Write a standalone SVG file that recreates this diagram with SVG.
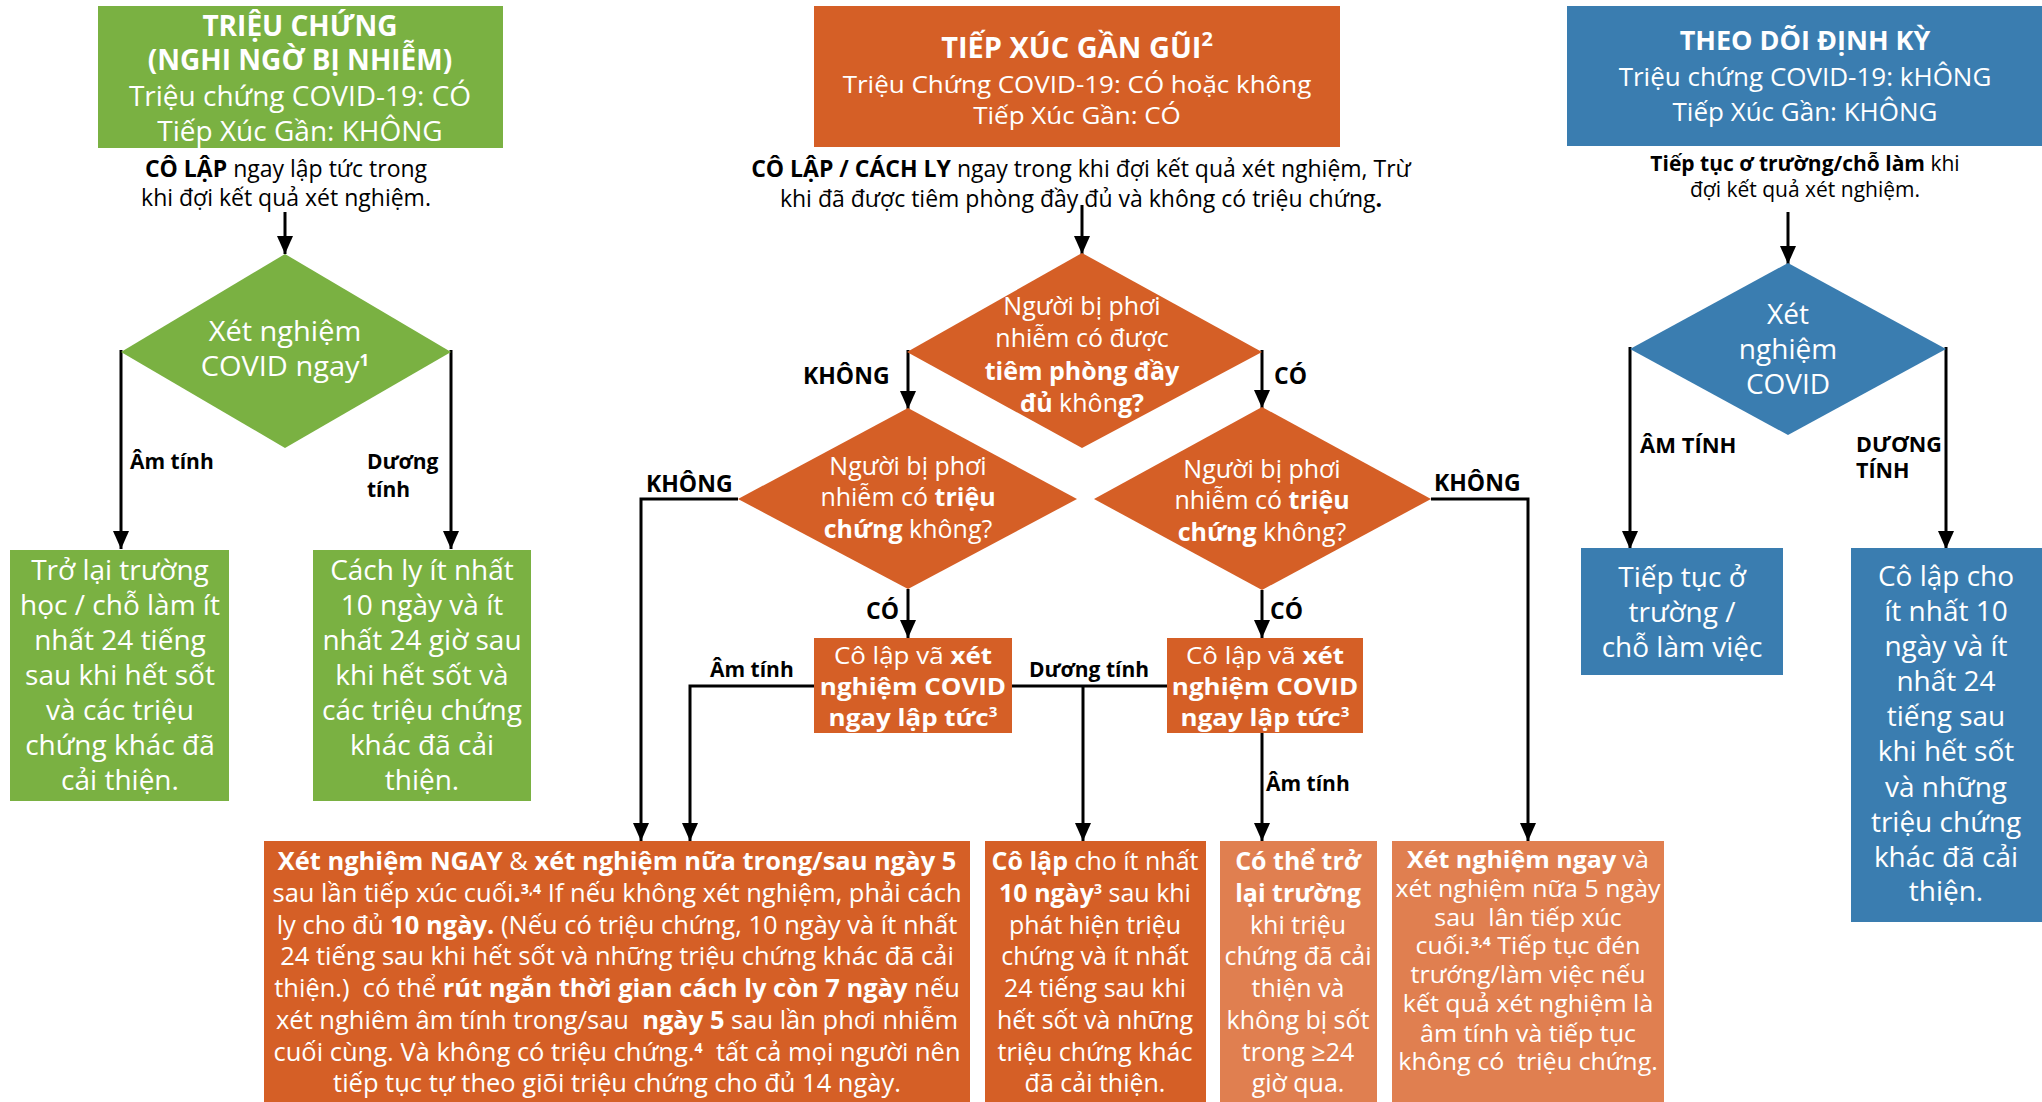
<svg xmlns="http://www.w3.org/2000/svg" width="2042" height="1102" viewBox="0 0 2042 1102">
<defs>
<style>
text{font-family:"Open Sans","Noto Sans","DejaVu Sans",sans-serif;}
.w{fill:#ffffff;text-anchor:middle;}
.k{fill:#000000;}
.c{text-anchor:middle;}
.b{font-weight:bold;}
.g{fill:#7AB142;}
.o{fill:#D55F26;}
.lo{fill:#E07F50;}
.bl{fill:#3A7DB0;}
.ln{stroke:#000;stroke-width:3;fill:none;}
</style>
<marker id="ah" markerWidth="18" markerHeight="16" refX="18" refY="8" orient="auto" markerUnits="userSpaceOnUse">
<path d="M0,0 L18,8 L0,16 z" fill="#000"/>
</marker>
</defs>
<rect width="2042" height="1102" fill="#ffffff"/>

<!-- connectors -->
<g id="connectors">
<path class="ln" d="M285,212 V254" marker-end="url(#ah)"/>
<path class="ln" d="M121,350 V549" marker-end="url(#ah)"/>
<path class="ln" d="M451,350 V549" marker-end="url(#ah)"/>

<path class="ln" d="M1082,205 V254" marker-end="url(#ah)"/>
<path class="ln" d="M908,350 V409" marker-end="url(#ah)"/>
<path class="ln" d="M1262,350 V408" marker-end="url(#ah)"/>
<path class="ln" d="M738,499 H641 V841" marker-end="url(#ah)"/>
<path class="ln" d="M1431,499 H1528 V841" marker-end="url(#ah)"/>
<path class="ln" d="M908,589 V638" marker-end="url(#ah)"/>
<path class="ln" d="M1262,590 V638" marker-end="url(#ah)"/>
<path class="ln" d="M814,686 H690 V841" marker-end="url(#ah)"/>
<path class="ln" d="M1012,686 H1167"/>
<path class="ln" d="M1083,686 V841" marker-end="url(#ah)"/>
<path class="ln" d="M1262,733 V841" marker-end="url(#ah)"/>

<path class="ln" d="M1788,212 V264" marker-end="url(#ah)"/>
<path class="ln" d="M1630,347 V549" marker-end="url(#ah)"/>
<path class="ln" d="M1946,347 V549" marker-end="url(#ah)"/>

<g font-size="21" font-weight="bold">
<text class="k" x="130" y="469">Âm tính</text>
<text class="k" x="367" y="469">Dương</text>
<text class="k" x="367" y="497">tính</text>
<text class="k" x="803" y="384" font-size="23">KHÔNG</text>
<text class="k" x="1274" y="384" font-size="23">CÓ</text>
<text class="k" x="646" y="492" font-size="23">KHÔNG</text>
<text class="k" x="1434" y="491" font-size="23">KHÔNG</text>
<text class="k" x="866" y="619" font-size="23">CÓ</text>
<text class="k" x="1270" y="619" font-size="23">CÓ</text>
<text class="k" x="710" y="677">Âm tính</text>
<text class="k" x="1029" y="677">Dương tính</text>
<text class="k" x="1266" y="791">Âm tính</text>
<text class="k" x="1640" y="453" font-size="22">ÂM TÍNH</text>
<text class="k" x="1856" y="452" font-size="21.5">DƯƠNG</text>
<text class="k" x="1856" y="478" font-size="21.5">TÍNH</text>
</g>
</g>

<!-- green column -->
<g id="green-header">
<rect class="g" x="98" y="6" width="405" height="142"/>
<text class="w b" x="300" y="36" font-size="28">TRIỆU CHỨNG</text>
<text class="w b" x="300" y="70" font-size="28">(NGHI NGỜ BỊ NHIỄM)</text>
<text class="w" x="300" y="106" font-size="28">Triệu chứng COVID-19: CÓ</text>
<text class="w" x="300" y="141" font-size="28">Tiếp Xúc Gần: KHÔNG</text>
</g>
<g id="green-note" font-size="23">
<text class="k c" x="286" y="177"><tspan class="b">CÔ LẬP</tspan> ngay lập tức trong</text>
<text class="k c" x="286" y="206">khi đợi kết quả xét nghiệm.</text>
</g>
<g id="green-diamond">
<polygon class="g" points="285,254 451,352 285,448 121,352"/>
<g transform="matrix(1.055,0,0,1,-15.7,0)" font-size="27.5">
<text class="w" x="285" y="341">Xét nghiệm</text>
<text class="w" x="285" y="376">COVID ngay<tspan class="b" font-size="16" dy="-10">1</tspan></text>
</g>
</g>
<g id="green-negative" font-size="28">
<rect class="g" x="10" y="550" width="219" height="251"/>
<text class="w" x="120" y="580">Trở lại trường</text>
<text class="w" x="120" y="615">học / chỗ làm ít</text>
<text class="w" x="120" y="650">nhất 24 tiếng</text>
<text class="w" x="120" y="685">sau khi hết sốt</text>
<text class="w" x="120" y="720">và các triệu</text>
<text class="w" x="120" y="755">chứng khác đã</text>
<text class="w" x="120" y="790">cải thiện.</text>
</g>
<g id="green-positive" font-size="28">
<rect class="g" x="313" y="550" width="218" height="251"/>
<text class="w" x="422" y="580">Cách ly ít nhất</text>
<text class="w" x="422" y="615">10 ngày và ít</text>
<text class="w" x="422" y="650">nhất 24 giờ sau</text>
<text class="w" x="422" y="685">khi hết sốt và</text>
<text class="w" x="422" y="720">các triệu chứng</text>
<text class="w" x="422" y="755">khác đã cải</text>
<text class="w" x="422" y="790">thiện.</text>
</g>

<!-- orange column -->
<g id="orange-header">
<rect class="o" x="814" y="6" width="526" height="141"/>
<text class="w b" x="1077" y="58" font-size="29">TIẾP XÚC GẦN GŨI<tspan font-size="20" dy="-12">2</tspan></text>
<g transform="matrix(1.083,0,0,1,-89.4,0)" font-size="24">
<text class="w" x="1077" y="93">Triệu Chứng COVID-19: CÓ hoặc không</text>
<text class="w" x="1077" y="124">Tiếp Xúc Gần: CÓ</text>
</g>
</g>
<g id="orange-note" font-size="23">
<text class="k c" x="1081" y="177"><tspan class="b">CÔ LẬP / CÁCH LY</tspan> ngay trong khi đợi kết quả xét nghiệm, Trừ</text>
<text class="k c" x="1081" y="207">khi đã được tiêm phòng đầy đủ và không có triệu chứng<tspan class="b">.</tspan></text>
</g>
<g id="vaccinated-diamond" font-size="25">
<polygon class="o" points="1082,253 1262,352 1082,448 907,352"/>
<text class="w" x="1082" y="315">Người bị phơi</text>
<text class="w" x="1082" y="347">nhiễm có được</text>
<text class="w b" x="1082" y="380">tiêm phòng đầy</text>
<text class="w" x="1082" y="412"><tspan class="b">đủ</tspan> khôn<tspan class="b">g?</tspan></text>
</g>
<g id="symptoms-diamond-left" font-size="25">
<polygon class="o" points="908,408 1077,499 908,589 738,499"/>
<text class="w" x="908" y="475">Người bị phơi</text>
<text class="w" x="908" y="506">nhiễm có <tspan class="b">triệu</tspan></text>
<text class="w" x="908" y="538"><tspan class="b">chứng</tspan> không?</text>
</g>
<g id="symptoms-diamond-right" font-size="25">
<polygon class="o" points="1262,407 1431,499 1262,590 1094,499"/>
<text class="w" x="1262" y="478">Người bị phơi</text>
<text class="w" x="1262" y="509">nhiễm có <tspan class="b">triệu</tspan></text>
<text class="w" x="1262" y="541"><tspan class="b">chứng</tspan> không?</text>
</g>
<g id="test-box-left">
<rect class="o" x="814" y="638" width="198" height="95"/>
<g transform="matrix(1.083,0,0,1,-75.8,0)" font-size="24">
<text class="w" x="913" y="664">Cô lập vã <tspan class="b">xét</tspan></text>
<text class="w b" x="913" y="695">nghiệm COVID</text>
<text class="w b" x="913" y="726">ngay lập tức<tspan font-size="14" dy="-9">3</tspan></text>
</g>
</g>
<g id="test-box-right">
<rect class="o" x="1167" y="638" width="196" height="95"/>
<g transform="matrix(1.083,0,0,1,-105,0)" font-size="24">
<text class="w" x="1265" y="664">Cô lập vã <tspan class="b">xét</tspan></text>
<text class="w b" x="1265" y="695">nghiệm COVID</text>
<text class="w b" x="1265" y="726">ngay lập tức<tspan font-size="14" dy="-9">3</tspan></text>
</g>
</g>
<g id="quarantine-box">
<rect class="o" x="264" y="841" width="706" height="261"/>
<g transform="matrix(1.02,0,0,1,-12.3,0)" font-size="25">
<text class="w" x="617" y="870"><tspan class="b">Xét nghiệm NGAY</tspan> &amp; <tspan class="b">xét nghiệm nữa trong/sau ngày 5</tspan></text>
<text class="w" x="617" y="902">sau lần tiếp xúc cuối<tspan class="b">.</tspan><tspan class="b" font-size="14" dy="-8">3,4</tspan><tspan dy="8"> If nếu không xét nghiệm, phải cách</tspan></text>
<text class="w" x="617" y="934">ly cho đủ <tspan class="b">10 ngày.</tspan> (Nếu có triệu chứng, 10 ngày và ít nhất</text>
<text class="w" x="617" y="965">24 tiếng sau khi hết sốt và những triệu chứng khác đã cải</text>
<text class="w" x="617" y="997">thiện.)&#160; có thể <tspan class="b">rút ngắn thời gian cách ly còn 7 ngày</tspan> nếu</text>
<text class="w" x="617" y="1029">xét nghiêm âm tính trong/sau&#160; <tspan class="b">ngày 5</tspan> sau lần phơi nhiễm</text>
<text class="w" x="617" y="1061">cuối cùng. Và không có triệu chứng.<tspan class="b" font-size="14" dy="-8">4</tspan><tspan dy="8">&#160; tất cả mọi người nên</tspan></text>
<text class="w" x="617" y="1092">tiếp tục tự theo giõi triệu chứng cho đủ 14 ngày.</text>
</g>
</g>
<g id="isolate-box" font-size="25">
<rect class="o" x="985" y="841" width="221" height="261"/>
<text class="w" x="1095" y="870"><tspan class="b">Cô lập</tspan> cho ít nhất</text>
<text class="w" x="1095" y="902"><tspan class="b">10 ngày</tspan><tspan class="b" font-size="14" dy="-8">3</tspan><tspan dy="8"> sau khi</tspan></text>
<text class="w" x="1095" y="934">phát hiện triệu</text>
<text class="w" x="1095" y="965">chứng và ít nhất</text>
<text class="w" x="1095" y="997">24 tiếng sau khi</text>
<text class="w" x="1095" y="1029">hết sốt và những</text>
<text class="w" x="1095" y="1061">triệu chứng khác</text>
<text class="w" x="1095" y="1092">đã cải thiện.</text>
</g>
<g id="return-box" font-size="25">
<rect class="lo" x="1220" y="841" width="157" height="261"/>
<text class="w b" x="1298" y="870">Có thể trở</text>
<text class="w b" x="1298" y="902">lại trường</text>
<text class="w" x="1298" y="934">khi triệu</text>
<text class="w" x="1298" y="965">chứng đã cải</text>
<text class="w" x="1298" y="997">thiện và</text>
<text class="w" x="1298" y="1029">không bị sốt</text>
<text class="w" x="1298" y="1061">trong ≥24</text>
<text class="w" x="1298" y="1092">giờ qua.</text>
</g>
<g id="vaccinated-box">
<rect class="lo" x="1392" y="841" width="272" height="261"/>
<g transform="matrix(1.087,0,0,1,-132.9,0)" font-size="23">
<text class="w" x="1528" y="868"><tspan class="b">Xét nghiệm ngay</tspan> và</text>
<text class="w" x="1528" y="897">xét nghiệm nữa 5 ngày</text>
<text class="w" x="1528" y="926">sau&#160; lân tiếp xúc</text>
<text class="w" x="1528" y="954">cuối.<tspan class="b" font-size="13" dy="-8">3,4</tspan><tspan dy="8"> Tiếp tục đén</tspan></text>
<text class="w" x="1528" y="983">trướng/làm việc nếu</text>
<text class="w" x="1528" y="1012">kết quả xét nghiệm là</text>
<text class="w" x="1528" y="1042">âm tính và tiếp tục</text>
<text class="w" x="1528" y="1070">không có&#160; triệu chứng.</text>
</g>
</g>

<!-- blue column -->
<g id="blue-header">
<rect class="bl" x="1567" y="6" width="475" height="140"/>
<text class="w b" x="1805" y="50" font-size="27">THEO DÕI ĐỊNH KỲ</text>
<text class="w" x="1805" y="86" font-size="26">Triệu chứng COVID-19: kHÔNG</text>
<text class="w" x="1805" y="121" font-size="26">Tiếp Xúc Gần: KHÔNG</text>
</g>
<g id="blue-note" font-size="21">
<text class="k c" x="1805" y="171"><tspan class="b">Tiếp tục ơ trường/chỗ làm</tspan> khi</text>
<text class="k c" x="1805" y="197">đợi kết quả xét nghiệm.</text>
</g>
<g id="blue-diamond" font-size="28">
<polygon class="bl" points="1788,263 1946,349 1788,435 1630,349"/>
<text class="w" x="1788" y="324">Xét</text>
<text class="w" x="1788" y="359">nghiệm</text>
<text class="w" x="1788" y="394">COVID</text>
</g>
<g id="blue-negative" font-size="28">
<rect class="bl" x="1581" y="548" width="202" height="127"/>
<text class="w" x="1682" y="587">Tiếp tục ở</text>
<text class="w" x="1682" y="622">trường /</text>
<text class="w" x="1682" y="657">chỗ làm việc</text>
</g>
<g id="blue-positive" font-size="28">
<rect class="bl" x="1851" y="548" width="191" height="374"/>
<text class="w" x="1946" y="586">Cô lập cho</text>
<text class="w" x="1946" y="621">ít nhất 10</text>
<text class="w" x="1946" y="656">ngày và ít</text>
<text class="w" x="1946" y="691">nhất 24</text>
<text class="w" x="1946" y="726">tiếng sau</text>
<text class="w" x="1946" y="761">khi hết sốt</text>
<text class="w" x="1946" y="797">và những</text>
<text class="w" x="1946" y="832">triệu chứng</text>
<text class="w" x="1946" y="867">khác đã cải</text>
<text class="w" x="1946" y="901">thiện.</text>
</g>
</svg>
